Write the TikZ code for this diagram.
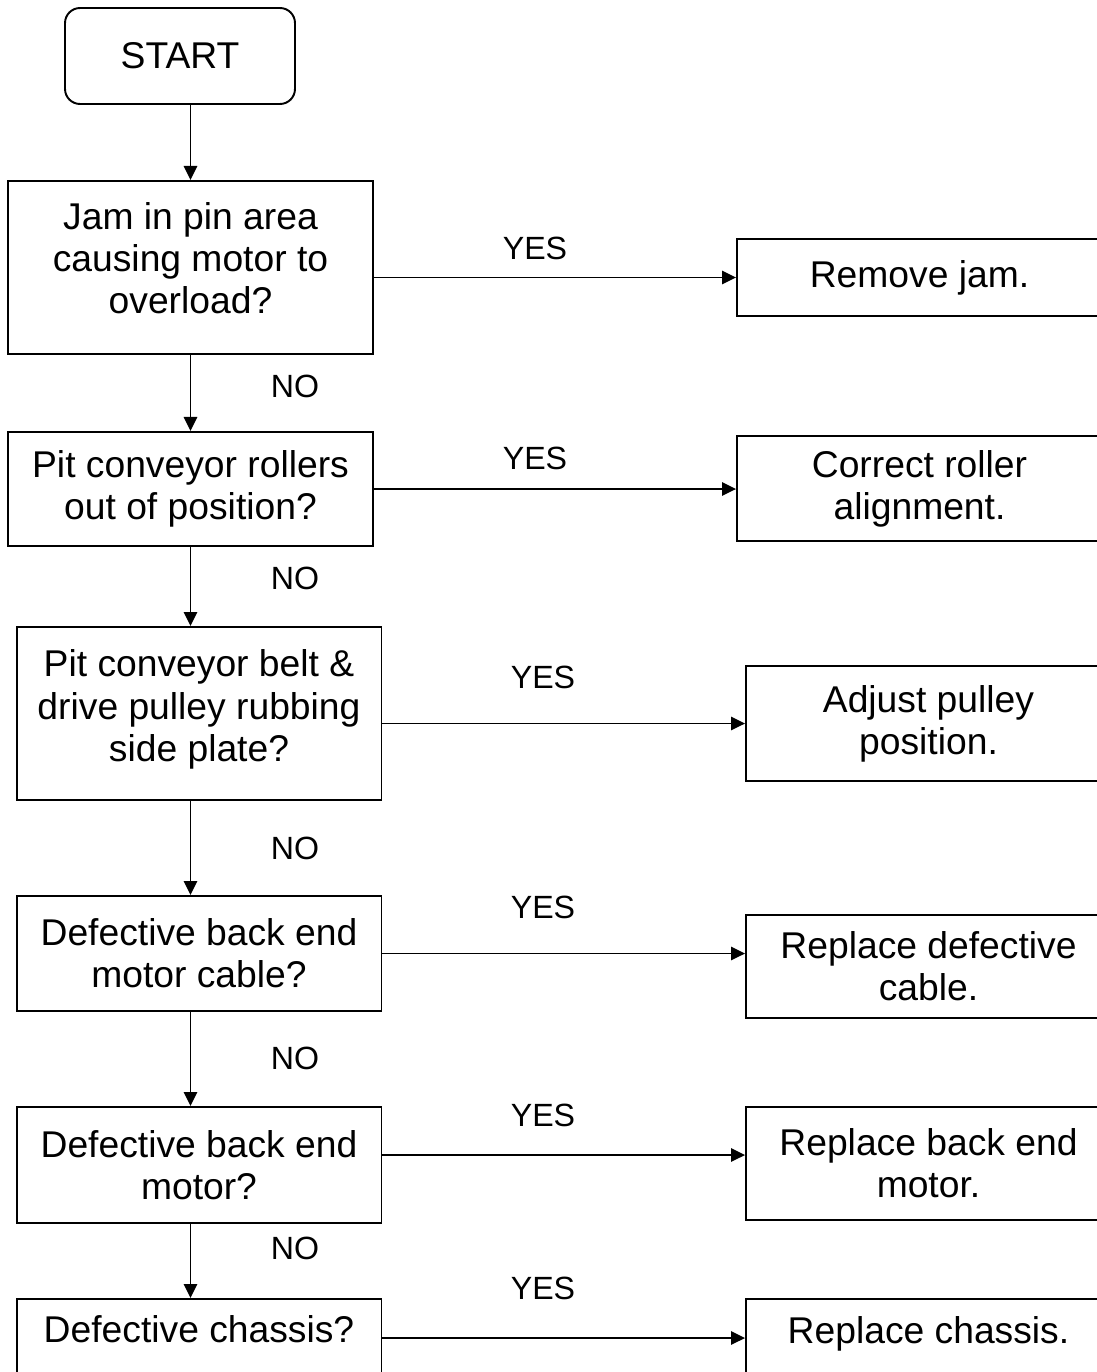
\documentclass[tikz,border=0pt]{standalone}
\usepackage{fontspec}
\setmainfont{Liberation Sans}
\usepackage{tikz}
\usetikzlibrary{positioning, arrows.meta, calc}
\tikzset{every picture/.append style={thick}}

\begin{document}
\begin{tikzpicture}[x=0.02cm, y=-0.02cm, line width=1.1pt,
    box/.style={draw, line width=1.1pt, align=center, minimum width=7.3cm, inner sep=0pt,
        font=\fontsize{21.2pt}{24pt}\selectfont},
    startbox/.style={box, rounded corners=0.3cm, minimum width=4.6cm, minimum height=1.92cm},
    answer/.style={font=\fontsize{18.3pt}{21pt}\selectfont},
    flow/.style={line width=1.1pt, -{Triangle[length=8pt, width=7.6pt]}}]

        \useasboundingbox (0,0) rectangle (1097,1372);

        % ==========================================
        % Start
        % ==========================================
        \node[startbox] (start) at (180,56) {START};

        % ==========================================
        % Questions (left column)
        % ==========================================
        \node[box, minimum height=3.46cm, text depth=11pt] (q1) at (190.5,267.5) {Jam in pin area\\causing motor to\\overload?};
        \node[box, minimum height=2.28cm] (q2) at (190.5,489) {Pit conveyor rollers\\out of position?};
        \node[box, minimum height=3.46cm, text depth=9pt] (q3) at (199,713.5) {Pit conveyor belt \&\\drive pulley rubbing\\side plate?};
        \node[box, minimum height=2.3cm] (q4) at (199,953.5) {Defective back end\\motor cable?};
        \node[box, minimum height=2.32cm] (q5) at (199,1165) {Defective back end\\motor?};
        \node[box, minimum height=1.68cm, text depth=14pt] (q6) at (199,1341) {Defective chassis?};

        % ==========================================
        % Actions (right column)
        % ==========================================
        \node[box, minimum height=1.54cm] (r1) at (919.5,277.5) {Remove jam.};
        \node[box, minimum height=2.1cm] (r2) at (919.5,488.5) {Correct roller\\alignment.};
        \node[box, minimum height=2.3cm] (r3) at (928.5,723.5) {Adjust pulley\\position.};
        \node[box, minimum height=2.06cm] (r4) at (928.5,966.5) {Replace defective\\cable.};
        \node[box, minimum height=2.26cm] (r5) at (928.5,1163.5) {Replace back end\\motor.};
        \node[box, minimum height=1.68cm, text depth=12pt] (r6) at (928.5,1341) {Replace chassis.};

        % ==========================================
        % NO branch (downwards)
        % ==========================================
        \draw[flow] (start.south -| q1.south) -- (q1.north);
        \draw[flow] (q1.south) -- (q1.south |- q2.north);
        \draw[flow] (q2.south) -- (q2.south |- q3.north);
        \draw[flow] (q3.south -| q2.south) -- (q2.south |- q4.north);
        \draw[flow] (q4.south -| q2.south) -- (q2.south |- q5.north);
        \draw[flow] (q5.south -| q2.south) -- (q2.south |- q6.north);

        \node[answer] (no1) at (295,386) {NO};
        \node[answer] (no2) at (295,578) {NO};
        \node[answer] (no3) at (295,848) {NO};
        \node[answer] (no4) at (295,1058) {NO};
        \node[answer] (no5) at (295,1248) {NO};

        % ==========================================
        % YES branch (to the right)
        % ==========================================
        \draw[flow] (r1.west -| q1.east) -- (r1.west);
        \draw[flow] (q2.east) -- (q2.east -| r2.west);
        \draw[flow] (r3.west -| q3.east) -- (r3.west);
        \draw[flow] (q4.east) -- (q4.east -| r4.west);
        \draw[flow] ([yshift=0.2cm]q5.east) -- ([yshift=0.2cm]q5.east -| r5.west);
        \draw[flow] ([yshift=0.06cm]q6.east) -- ([yshift=0.06cm]q6.east -| r6.west);

        \node[answer] (yes1) at (535,248) {YES};
        \node[answer] (yes2) at (535,458) {YES};
        \node[answer] (yes3) at (543,677) {YES};
        \node[answer] (yes4) at (543,907) {YES};
        \node[answer] (yes5) at (543,1115) {YES};
        \node[answer] (yes6) at (543,1288) {YES};

    \end{tikzpicture}
\end{document}
